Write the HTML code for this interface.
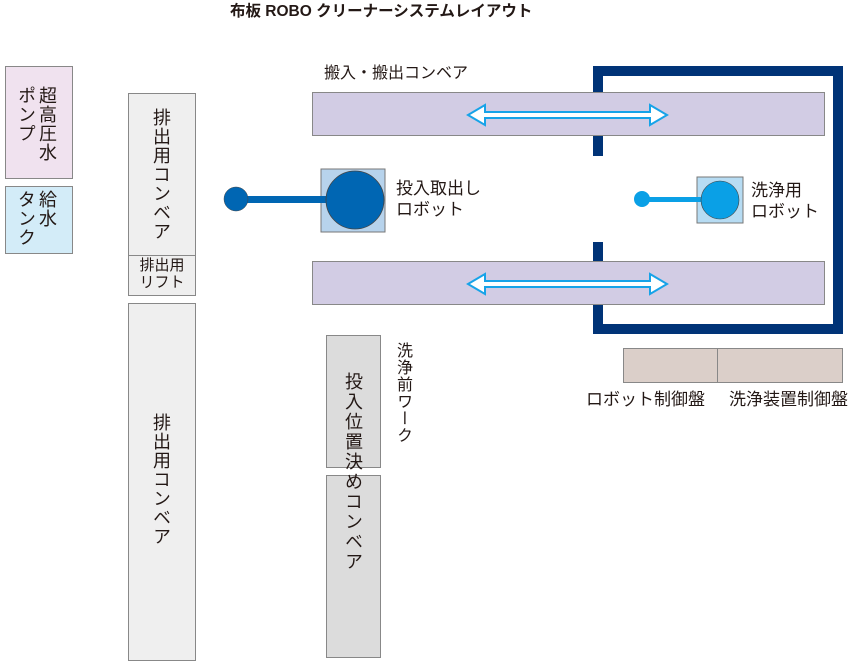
<!DOCTYPE html>
<html><head><meta charset="utf-8"><style>
body{margin:0;width:860px;height:663px;background:#fff;position:relative;overflow:hidden;font-family:"Liberation Sans","Noto Sans CJK JP",sans-serif;color:#231815}
.b{position:absolute;box-sizing:border-box;border:1px solid #888}
.t{position:absolute;font-size:17px;line-height:19px;white-space:nowrap}
.v{writing-mode:vertical-rl;}
</style></head><body>
<div class="t" style="left:230px;top:2px;font-size:15.5px;font-weight:bold;">布板 ROBO クリーナーシステムレイアウト</div>
<div class="t" style="left:324px;top:64px;font-size:16px;">搬入・搬出コンベア</div>

<div class="b" style="left:5px;top:66px;width:68px;height:113px;background:#f0e2ef"></div>
<div class="t v" style="left:15px;top:86px;line-height:21px;font-size:18px;letter-spacing:1px;">超高圧水<br>ポンプ</div>
<div class="b" style="left:5px;top:186px;width:68px;height:68px;background:#d3ecf8"></div>
<div class="t v" style="left:15px;top:190px;line-height:21px;font-size:18px;letter-spacing:1px;">給水<br>タンク</div>

<div class="b" style="left:128px;top:93px;width:68px;height:163px;background:#efefef"></div>
<div class="t v" style="left:151px;top:108px;line-height:20px;font-size:18px;letter-spacing:1px;">排出用コンベア</div>
<div class="b" style="left:128px;top:255px;width:68px;height:41px;background:#efefef"></div>
<div class="t" style="left:135px;top:257px;font-size:15px;line-height:17px;text-align:center;width:54px;">排出用<br>リフト</div>
<div class="b" style="left:128px;top:303px;width:68px;height:358px;background:#efefef"></div>
<div class="t v" style="left:151px;top:413px;line-height:20px;font-size:18px;letter-spacing:1px;">排出用コンベア</div>

<div class="b" style="left:326px;top:335px;width:55px;height:133px;background:#dcdcdc"></div>
<div class="b" style="left:326px;top:475px;width:55px;height:183px;background:#dcdcdc"></div>
<div class="t v" style="left:343px;top:372px;line-height:20px;font-size:18px;letter-spacing:2px;">投入位置決めコンベア</div>
<div class="t v" style="left:393px;top:342px;line-height:18px;font-size:16px;letter-spacing:1px;">洗浄前ワーク</div>

<div class="b" style="left:312px;top:92px;width:513px;height:44px;background:#d2cce4"></div>
<div class="b" style="left:312px;top:261px;width:513px;height:44px;background:#d2cce4"></div>

<svg width="860" height="663" style="position:absolute;left:0;top:0">
<g fill="#003377">
<rect x="593" y="66" width="250" height="10"/>
<rect x="833" y="66" width="10" height="268"/>
<rect x="593" y="324" width="250" height="10"/>
<rect x="593" y="66" width="10" height="26"/>
<rect x="593" y="136" width="10" height="20"/>
<rect x="593" y="242" width="10" height="19"/>
<rect x="593" y="305" width="10" height="29"/>
</g>
<g fill="#fff" stroke="#17a3e8" stroke-width="2">
<polygon points="468,115 485,105 485,112 650,112 650,105 667,115 650,125 650,118 485,118 485,125"/>
<polygon points="468,284 485,274 485,281 650,281 650,274 667,284 650,294 650,287 485,287 485,294"/>
</g>
<rect x="321" y="169" width="64" height="63" fill="#b7d3ec" stroke="#777"/>
<rect x="236" y="196" width="94" height="7" fill="#0066b3"/>
<ellipse cx="236" cy="199" rx="12" ry="12" fill="#0066b3" stroke="#444" stroke-width="0.5"/>
<circle cx="355" cy="200" r="29" fill="#0066b3" stroke="#444" stroke-width="0.8"/>
<rect x="697" y="177" width="46" height="46" fill="#b7dcf3" stroke="#777"/>
<rect x="641" y="197" width="68" height="5" fill="#0aa0e6"/>
<circle cx="642" cy="199" r="8" fill="#0aa0e6"/>
<circle cx="720" cy="200" r="19" fill="#0aa0e6" stroke="#444" stroke-width="0.6"/>
</svg>

<div class="t" style="left:396px;top:178px;line-height:21px;">投入取出し<br>ロボット</div>
<div class="t" style="left:751px;top:180px;line-height:21px;">洗浄用<br>ロボット</div>

<div class="b" style="left:623px;top:348px;width:95px;height:35px;background:#dbcfc9"></div>
<div class="b" style="left:717px;top:348px;width:126px;height:35px;background:#dbcfc9"></div>
<div class="t" style="left:586px;top:390px;">ロボット制御盤</div>
<div class="t" style="left:729px;top:390px;">洗浄装置制御盤</div>
</body></html>
